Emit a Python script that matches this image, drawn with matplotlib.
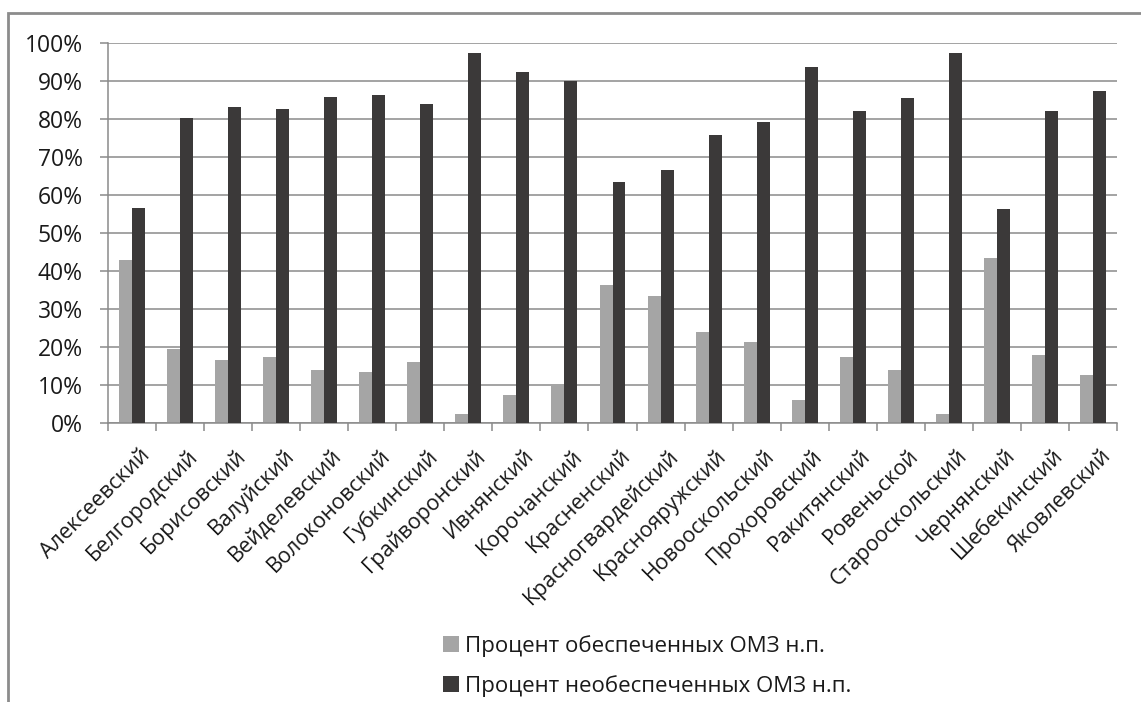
import matplotlib
matplotlib.use("Agg")
import matplotlib.pyplot as plt
import numpy as np
from matplotlib.patches import Rectangle
from matplotlib.ticker import FixedLocator, PercentFormatter

plt.rcParams['font.family'] = ['Open Sans', 'DejaVu Sans']

districts = [
    "Алексеевский", "Белгородский", "Борисовский", "Валуйский",
    "Вейделевский", "Волоконовский", "Губкинский", "Грайворонский",
    "Ивнянский", "Корочанский", "Красненский", "Красногвардейский",
    "Краснояружский", "Новооскольский", "Прохоровский", "Ракитянский",
    "Ровеньской", "Старооскольский", "Чернянский", "Шебекинский",
    "Яковлевский",
]
provided = [42.9, 19.4, 16.6, 17.5, 13.9, 13.3, 16.0, 2.5, 7.3, 9.9, 36.4,
            33.4, 23.9, 21.2, 6.1, 17.5, 14.0, 2.5, 43.5, 18.0, 12.6]
unprovided = [56.7, 80.3, 83.2, 82.6, 85.8, 86.2, 83.9, 97.4, 92.4, 90.1, 63.4,
              66.5, 75.9, 79.1, 93.6, 82.1, 85.5, 97.4, 56.2, 82.1, 87.5]
series_names = ["Процент обеспеченных ОМЗ н.п.",
                "Процент необеспеченных ОМЗ н.п."]

light = "#a5a5a5"
dark = "#3b3939"
grid_col = "#8a8a8a"

fig = plt.figure(figsize=(11.41, 7.02), dpi=100)
ax = fig.add_axes([108 / 1141, 1 - 423 / 702, (1117 - 108) / 1141, 380 / 702])

x = np.arange(len(districts))
w = 0.27
ax.bar(x - w / 2, provided, w, color=light, label=series_names[0], zorder=2)
ax.bar(x + w / 2, unprovided, w, color=dark, label=series_names[1], zorder=3)

ax.set_xlim(-0.5, len(districts) - 0.5)
ax.set_ylim(0, 100)
ax.set_yticks(np.arange(0, 101, 10))
ax.yaxis.set_major_formatter(PercentFormatter(decimals=0))
ax.yaxis.grid(True, color=grid_col, linewidth=1.1, zorder=0)

ax.set_xticks(x + 0.15)
ax.set_xticklabels(districts, rotation=45, ha='right', rotation_mode='anchor',
                   fontsize=15.5, color="#1a1a1a")
ax.tick_params(axis='x', which='major', length=0, pad=16)
ax.xaxis.set_minor_locator(FixedLocator(np.arange(-0.5, len(districts), 1)))
ax.tick_params(axis='x', which='minor', length=6, color=grid_col, width=1.1)
ax.tick_params(axis='y', length=6, color=grid_col, width=1.1, labelsize=16.5,
               labelcolor="#1a1a1a", pad=12)

for side in ['top', 'right']:
    ax.spines[side].set_visible(False)
for side in ['left', 'bottom']:
    ax.spines[side].set_color(grid_col)
    ax.spines[side].set_linewidth(1.1)

# outer frame around the chart
fig.patches.append(Rectangle((8 / 1141, -0.05), 1.1, 1 - 13 / 702 + 0.05,
                             transform=fig.transFigure, fill=False,
                             edgecolor="#8c8c8c", linewidth=2))

fig.legend(loc='upper left', bbox_to_anchor=(443 / 1141, 1 - 635 / 702),
           frameon=False, fontsize=16, handlelength=0.7, handleheight=0.7,
           handletextpad=0.3, labelspacing=0.8, borderpad=0, borderaxespad=0,
           labelcolor="#1a1a1a")

fig.savefig("out.png", dpi=100)
